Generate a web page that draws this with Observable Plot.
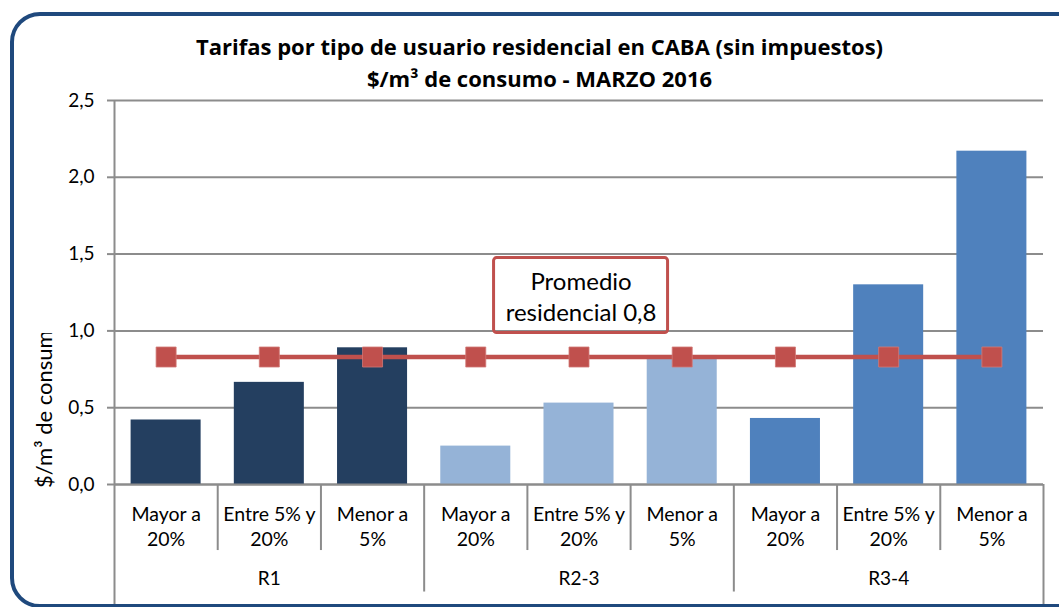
<!DOCTYPE html>
<html>
<head>
<meta charset="utf-8">
<script src="https://cdn.jsdelivr.net/npm/d3@7"></script>
<script src="https://cdn.jsdelivr.net/npm/@observablehq/plot@0.6"></script>
<style>
  html, body { margin: 0; padding: 0; background: #fff; }
  #wrap { position: relative; width: 1059px; height: 607px; overflow: hidden; font-family: Lato, "Open Sans", sans-serif; }
  #title { height: 90px; box-sizing: border-box; padding-top: 30px; text-align: center; font-family: "Open Sans", sans-serif; font-weight: bold; font-size: 22px; line-height: 32px; color: #000; margin-left: 20px; }
  #frame { position: absolute; left: 10px; top: 12px; width: 1070px; height: 588px; border: 4px solid #1F497D; border-radius: 30px; pointer-events: none; }
</style>
</head>
<body>
<div id="wrap">
  <div id="title">Tarifas por tipo de usuario residencial en CABA (sin impuestos)<br>$/m³ de consumo - MARZO 2016</div>
  <div id="chart"></div>
  <div id="frame"></div>
</div>
<script>
const groups = ["R1", "R2-3", "R3-4"];
const segments = ["Mayor a\n20%", "Entre 5% y\n20%", "Menor a\n5%"];
const r1Values = [0.42, 0.665, 0.89];
const r23Values = [0.25, 0.53, 0.84];
const r34Values = [0.43, 1.30, 2.17];
const promedio = 0.83;
const promedioLabel = "Promedio\nresidencial 0,8";
const yTicks = [0, 0.5, 1.0, 1.5, 2.0, 2.5];
const yLabel = "$/m³ de consumo";
const colors = ["#243F60", "#95B3D7", "#4F81BD"];

const groupValues = [r1Values, r23Values, r34Values];
const rows = [];
groups.forEach((g, gi) => segments.forEach((s, si) => {
  rows.push({ i: gi * 3 + si, group: g, gi, segment: s, value: groupValues[gi][si] });
}));
const catEdges = d3.range(1, 9).filter(k => k % 3 !== 0);
const groupEdges = [3, 6];

const grey = "#8c8c8c";
const chart = Plot.plot({
  width: 1059,
  height: 517,
  marginTop: 10,
  marginBottom: 123,
  marginLeft: 114,
  marginRight: 16,
  style: { fontFamily: "Lato, 'Open Sans', sans-serif", fontSize: "19px", color: "#000", background: "transparent", overflow: "visible" },
  x: { domain: [0, 9], axis: null },
  y: { domain: [0, 2.5], axis: null },
  marks: [
    Plot.gridY(yTicks, { stroke: grey, strokeOpacity: 1, strokeWidth: 2 }),
    Plot.axisY(yTicks, { tickFormat: d => d.toFixed(1).replace(".", ","), tickSize: 7, tickPadding: 13, stroke: grey, strokeWidth: 2, fontSize: 19, label: null }),
    Plot.rect(rows, { x1: "i", x2: d => d.i + 1, y1: 0, y2: "value", fill: d => colors[d.gi], insetLeft: 16.6, insetRight: 16.6 }),
    Plot.ruleY([0], { stroke: grey, strokeWidth: 2 }),
    Plot.ruleX([0], { y1: 2.5, y2: -0.9, stroke: grey, strokeWidth: 2 }),
    Plot.ruleX([9], { y1: 0, y2: -0.9, stroke: grey, strokeWidth: 2 }),
    Plot.ruleX(catEdges, { y1: 0, y2: -0.43, stroke: grey, strokeWidth: 2 }),
    Plot.ruleX(groupEdges, { y1: 0, y2: -0.70, stroke: grey, strokeWidth: 2 }),
    Plot.text(rows, { x: d => d.i + 0.5, y: -0.265, text: "segment", fontSize: 19.5, lineHeight: 1.3, fill: "#000" }),
    Plot.text(groups, { x: (d, i) => i * 3 + 1.5, y: -0.612, text: d => d, fontSize: 19, fill: "#000" }),
    Plot.line(rows, { x: d => d.i + 0.5, y: () => promedio, stroke: "#C0504D", strokeWidth: 4.5 }),
    Plot.dot(rows, { x: d => d.i + 0.5, y: () => promedio, symbol: "square", r: 11.3, fill: "#C0504D", stroke: "#D27a77", strokeWidth: 0.8 }),
    Plot.text([promedioLabel], { x: 4.52, y: 1.23, text: d => d, fontSize: 24, lineHeight: 1.3, fill: "#000" })
  ]
});
document.getElementById("chart").appendChild(chart);

// annotation box positioned from the scales
const sx = chart.scale("x"), sy = chart.scale("y");
const svg = d3.select(chart);
const cx = sx.apply(4.52), cy = sy.apply(1.23);
const bw = 174, bh = 75;
svg.append("rect")
  .attr("x", cx - bw / 2).attr("y", cy - bh / 2)
  .attr("width", bw).attr("height", bh)
  .attr("rx", 3)
  .attr("fill", "none").attr("stroke", "#C0504D").attr("stroke-width", 3);

// clipped rotated y label
const labTop = sy.apply(2.5) + (333 - 100);
const labBottom = sy.apply(0) + 4;
svg.append("clipPath").attr("id", "ylabclip")
  .append("rect").attr("x", 20).attr("y", labTop).attr("width", 45).attr("height", labBottom - labTop + 20);
svg.append("g")
  .attr("clip-path", "url(#ylabclip)")
  .append("text")
  .attr("transform", `translate(52,${labBottom}) rotate(-90)`)
  .attr("text-anchor", "start")
  .attr("font-size", 22)
  .attr("fill", "#000")
  .text(yLabel);
</script>
</body>
</html>
